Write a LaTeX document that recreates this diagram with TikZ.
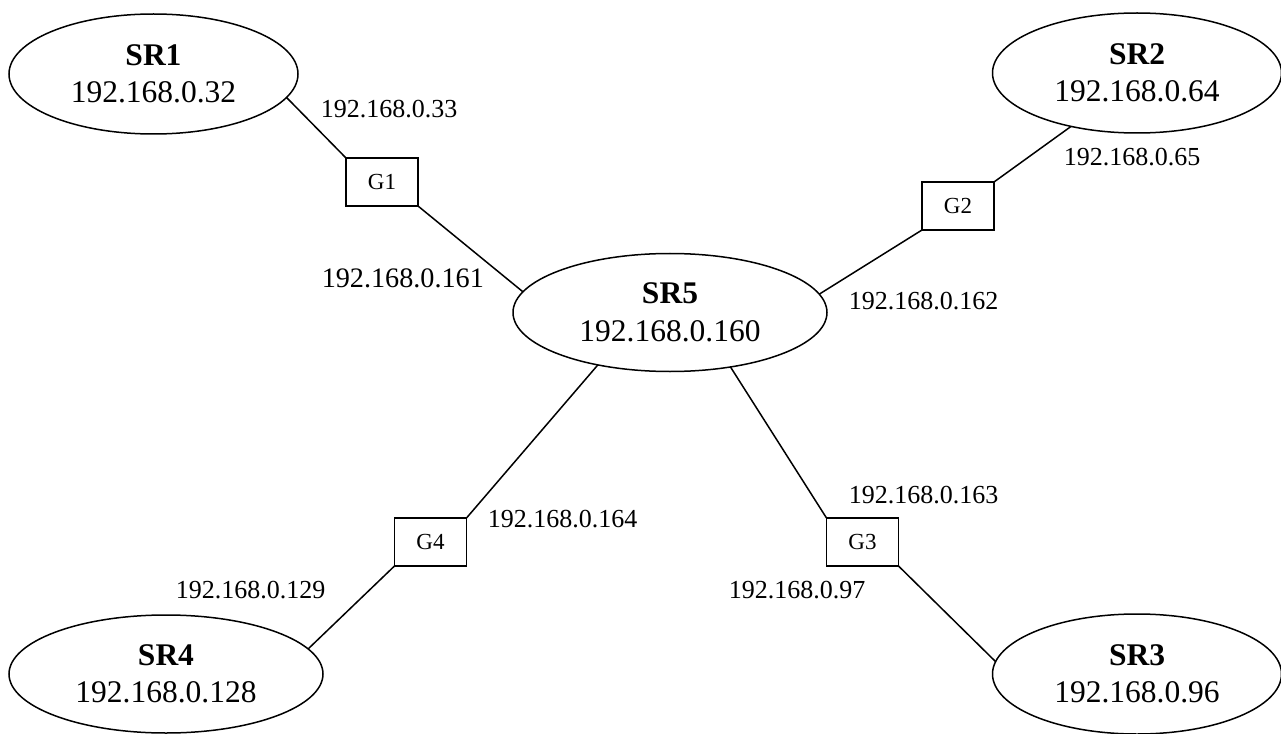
\documentclass[tikz,border=0pt]{standalone}
\usepackage{fontspec}
\setmainfont{Liberation Serif}
\usetikzlibrary{shapes.geometric}
\begin{document}
\begin{tikzpicture}[x=1bp, y=-1bp, line width=1.5bp,
  router/.style={draw, ellipse, inner sep=0pt, outer sep=0pt, align=center,
                 font=\fontsize{31.5bp}{37.5bp}\selectfont},
  routerS/.style={router, minimum width=289bp, minimum height=120bp},
  routerW/.style={router, minimum width=314bp, minimum height=118bp},
  gateway/.style={draw, rectangle, inner sep=0pt, outer sep=0pt,
                  minimum width=72bp, minimum height=48bp,
                  font=\fontsize{23bp}{27bp}\selectfont},
  addr/.style={inner sep=0pt, anchor=base west,
               font=\fontsize{26bp}{30bp}\selectfont},
  addrL/.style={addr, font=\fontsize{28.2bp}{32bp}\selectfont}]
  \useasboundingbox (0,0) rectangle (1281,734);

  % subnet routers
  \node[routerS] (SR1) at (153.5,74)  {\textbf{SR1}\\192.168.0.32};
  \node[routerS] (SR2) at (1137,73)   {\textbf{SR2}\\192.168.0.64};
  \node[routerS] (SR3) at (1137,674)  {\textbf{SR3}\\192.168.0.96};
  \node[routerW] (SR4) at (166,674)   {\textbf{SR4}\\192.168.0.128};
  \node[routerW] (SR5) at (670,312.5) {\textbf{SR5}\\192.168.0.160};

  % gateways
  \node[gateway] (G1) at (382,182) {G1};
  \node[gateway] (G2) at (958,206) {G2};
  \node[gateway] (G3) at (862.5,542) {G3};
  \node[gateway] (G4) at (430.5,542) {G4};

  % links
  \draw (SR1.-10.2)  -- (G1.north west);
  \draw (G1.south east) -- (SR5.172.1);
  \draw (SR2.-141.8) -- (G2.north east);
  \draw (G2.south west) -- (SR5.7.6);
  \draw (SR5.-144.6) -- (G4.north east);
  \draw (G4.south west) -- (SR4.10.2);
  \draw (SR5.-42)    -- (G3.north west);
  \draw (G3.south east) -- (SR3.175.2);

  % interface addresses
  \node[addr]  (a33)  at (320,118)  {192.168.0.33};
  \node[addrL] (a161) at (321,287)  {192.168.0.161};
  \node[addr]  (a65)  at (1063,166) {192.168.0.65};
  \node[addr]  (a162) at (848,309)  {192.168.0.162};
  \node[addr]  (a164) at (487,527)  {192.168.0.164};
  \node[addr]  (a163) at (848,503)  {192.168.0.163};
  \node[addr]  (a97)  at (728,598)  {192.168.0.97};
  \node[addr]  (a129) at (175,598)  {192.168.0.129};
\end{tikzpicture}
\end{document}
